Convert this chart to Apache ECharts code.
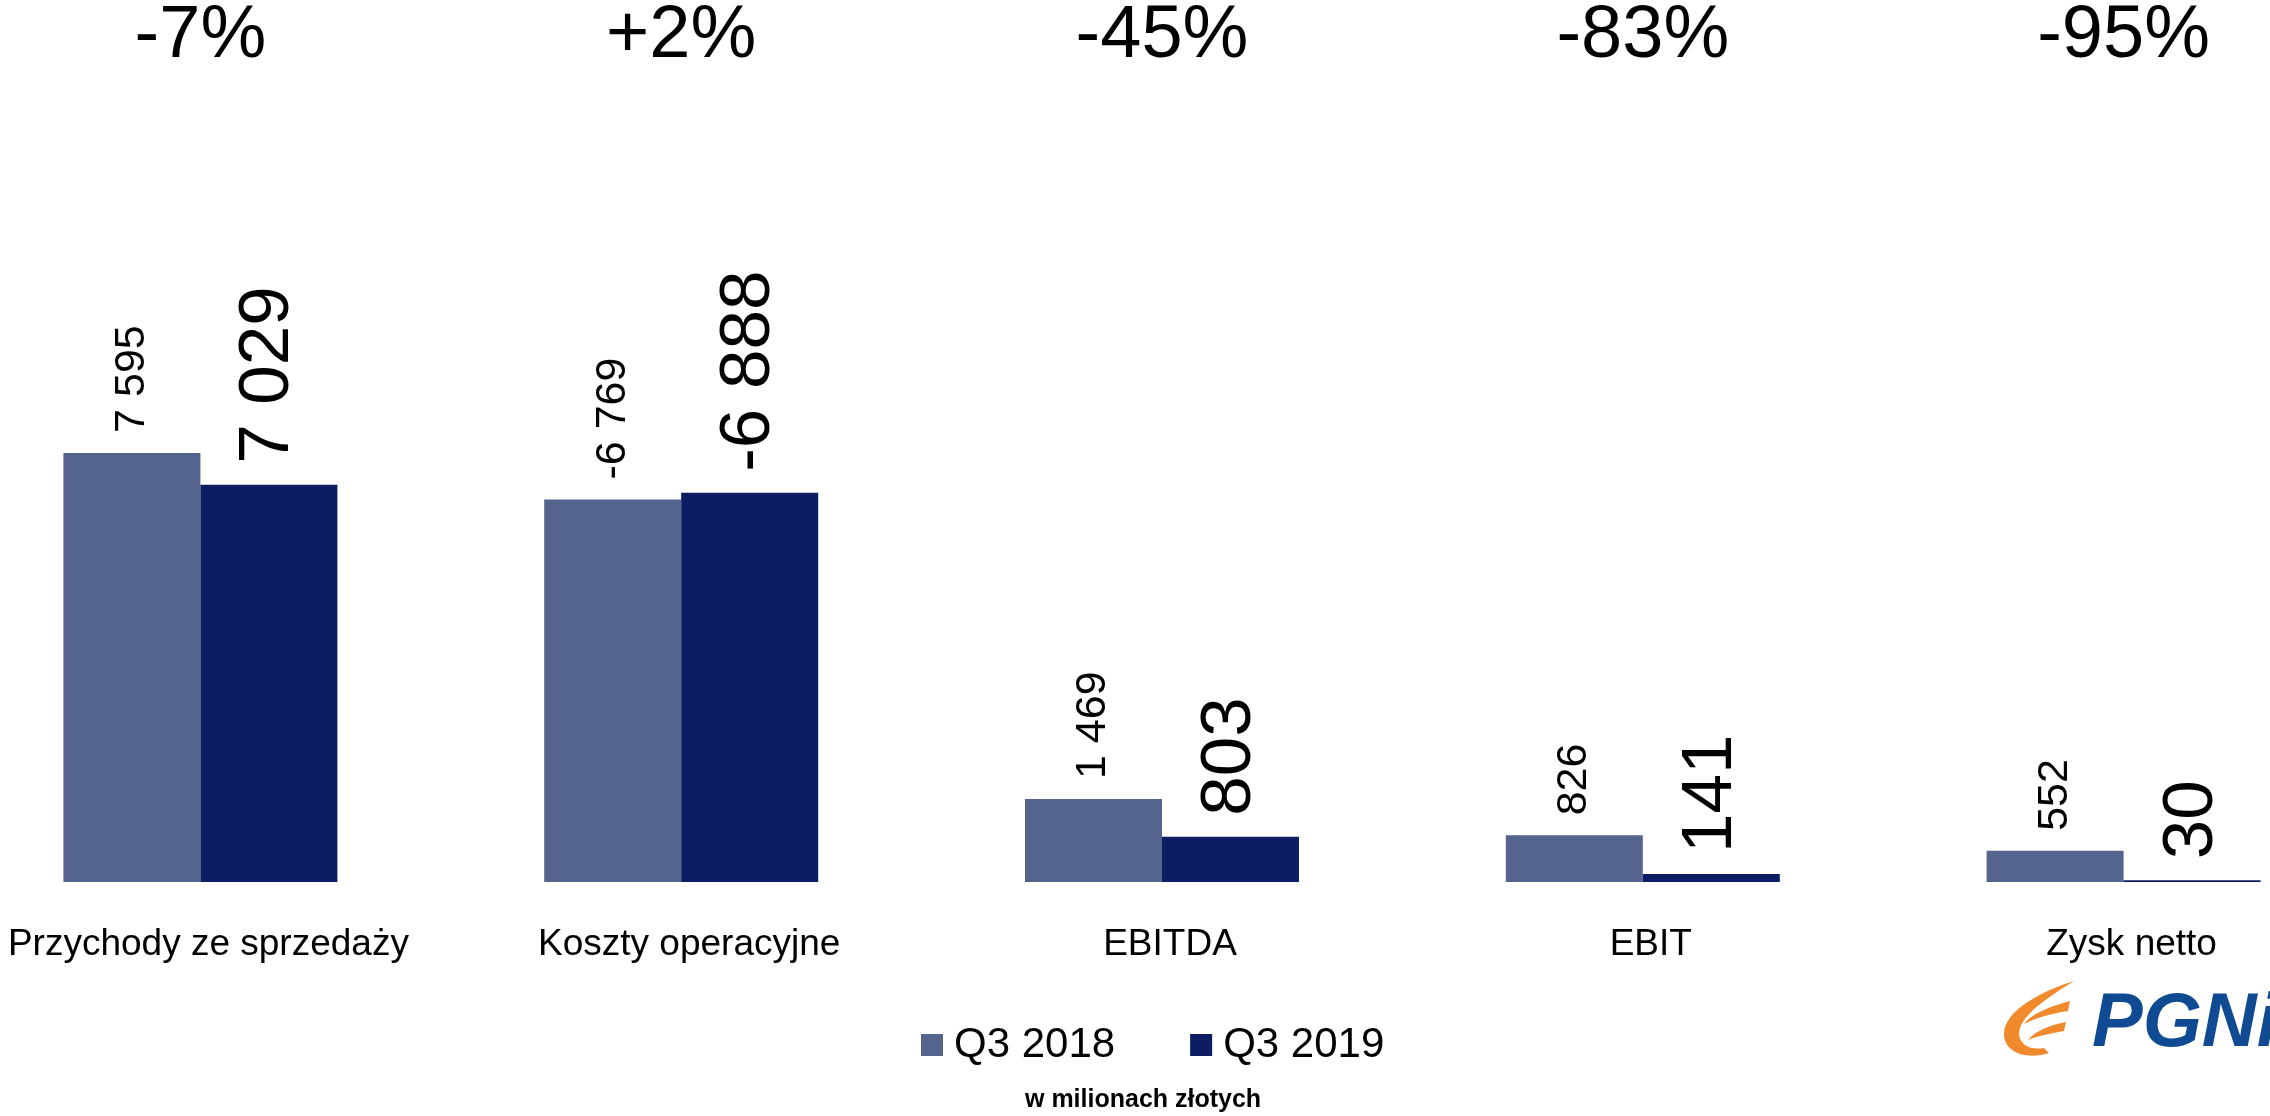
<!DOCTYPE html>
<html>
<head>
<meta charset="utf-8">
<script src="https://cdn.jsdelivr.net/npm/echarts@6/dist/echarts.min.js"></script>
<style>
  html, body { margin: 0; padding: 0; background: #fff; overflow: hidden; width: 2270px; height: 1116px; position: relative; }
  /* plot area is wider than the page: first and last bands are cut by the edges */
  #chart { position: absolute; left: -40px; top: 0; width: 2404px; height: 1116px; }
</style>
</head>
<body>
<div id="chart"></div>
<script>
const categories = ['Przychody ze sprzedaży', 'Koszty operacyjne', 'EBITDA', 'EBIT', 'Zysk netto'];
const changes = ['-7%', '+2%', '-45%', '-83%', '-95%'];
const q3_2018 = [7595, -6769, 1469, 826, 552];
const q3_2019 = [7029, -6888, 803, 141, 30];

const FONT = 'Liberation Sans, Arial, sans-serif';
const SHIFT = 40; // chart div starts 40px left of the page

// "7595" -> "7 595", keeps sign
const fmt = v => (v < 0 ? '-' : '') + String(Math.abs(v)).replace(/\B(?=(\d{3})+(?!\d))/g, ' ');

// logo flame as inline svg
const flameSvg = '<svg xmlns="http://www.w3.org/2000/svg" width="74" height="78" viewBox="0 0 74 78">' +
  '<path fill="#f08a2c" d="M72,0 C40,10 0,30 2,55 C4,72 25,79 47,72 L42,67 C24,70 14,60 18,47 C24,30 50,14 72,0 Z"/>' +
  '<path fill="#f08a2c" d="M68,20 C50,25 30,32 22,43 C36,36 52,32 66,30 Z"/>' +
  '<path fill="#f08a2c" d="M64,41 C48,44 33,50 26,59 C38,54 52,52 62,50 Z"/>' +
  '</svg>';

const chart = echarts.init(document.getElementById('chart'));

const option = {
  backgroundColor: '#fff',
  textStyle: { fontFamily: FONT },
  title: {
    text: 'w milionach złotych',
    left: 1025 + SHIFT,
    top: 1088,
    padding: 0,
    textStyle: { fontSize: 25, fontWeight: 'bold', color: '#000', fontFamily: FONT }
  },
  legend: {
    data: ['Q3 2018', 'Q3 2019'],
    left: 921 + SHIFT,
    top: 1024,
    padding: 0,
    icon: 'rect',
    itemWidth: 22,
    itemHeight: 22,
    itemGap: 75,
    textStyle: { fontSize: 42, color: '#000', fontFamily: FONT, padding: [0, 0, 0, 6] }
  },
  grid: { left: 0, right: 0, top: 317, bottom: 234 },
  xAxis: [
    {
      type: 'category',
      data: categories,
      axisLine: { show: false },
      axisTick: { show: false },
      axisLabel: { fontSize: 37, color: '#000', margin: 44, interval: 0, fontFamily: FONT, padding: [0, 0, 0, 16] }
    },
    {
      type: 'category',
      position: 'top',
      data: changes,
      axisLine: { show: false },
      axisTick: { show: false },
      axisLabel: { fontSize: 74, color: '#000', margin: 243, interval: 0, fontFamily: FONT }
    }
  ],
  yAxis: { type: 'value', min: 0, max: 10000, show: false, splitLine: { show: false } },
  series: [
    {
      name: 'Q3 2018',
      type: 'bar',
      barWidth: 137,
      barGap: '0%',
      itemStyle: { color: '#55638f' },
      data: q3_2018.map(Math.abs),
      label: {
        show: true,
        position: 'top',
        rotate: 90,
        align: 'left',
        verticalAlign: 'middle',
        distance: 20,
        fontSize: 43,
        color: '#000',
        fontFamily: FONT,
        formatter: p => fmt(q3_2018[p.dataIndex])
      }
    },
    {
      name: 'Q3 2019',
      type: 'bar',
      barWidth: 137,
      barGap: '0%',
      itemStyle: { color: '#0c1d61' },
      data: q3_2019.map(Math.abs),
      label: {
        show: true,
        position: 'top',
        rotate: 90,
        align: 'left',
        verticalAlign: 'middle',
        distance: 21,
        fontSize: 71,
        color: '#000',
        fontFamily: FONT,
        formatter: p => fmt(q3_2019[p.dataIndex])
      }
    }
  ],
  graphic: [
    {
      type: 'image',
      x: 2002 + SHIFT,
      y: 981,
      style: { image: 'data:image/svg+xml;charset=utf-8,' + encodeURIComponent(flameSvg), width: 74, height: 78 }
    },
    {
      type: 'text',
      x: 2092 + SHIFT,
      y: 1025,
      style: { text: 'PGNiG', font: 'italic bold 76px ' + FONT, fill: '#0f4a92', verticalAlign: 'middle' }
    }
  ]
};

chart.setOption(option);
</script>
</body>
</html>
